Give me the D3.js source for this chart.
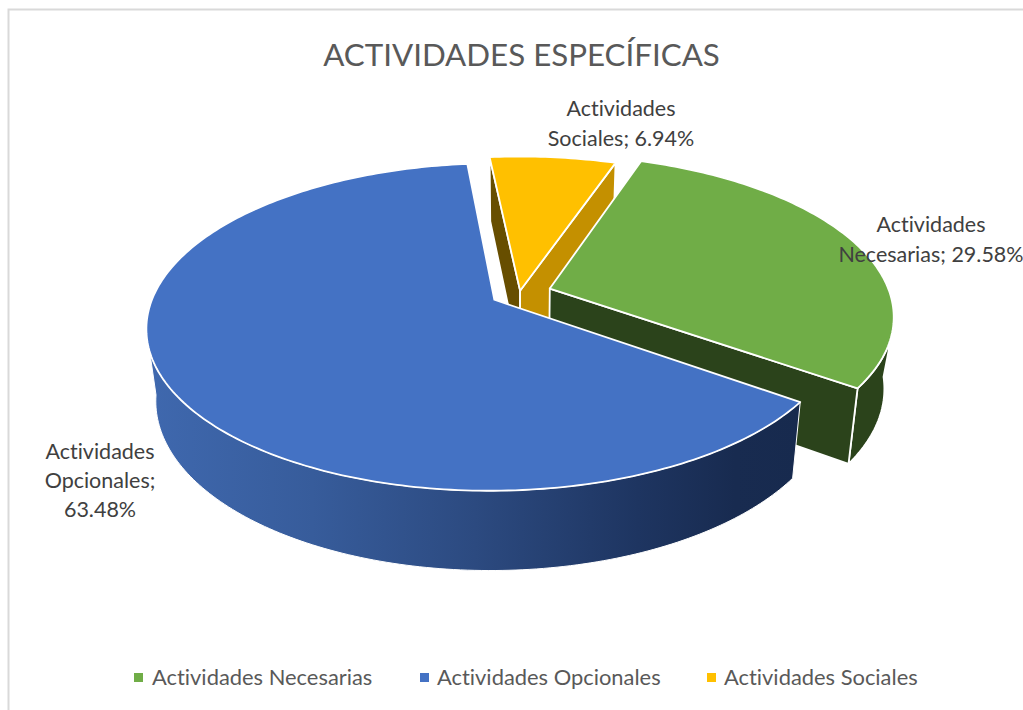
<!DOCTYPE html>
<html><head><meta charset="utf-8">
<script src="https://cdn.jsdelivr.net/npm/d3@7"></script>
<style>html,body{margin:0;padding:0;background:#fff;overflow:hidden}text{font-family:Lato,"Open Sans",sans-serif;font-variant-ligatures:none}</style>
</head><body><svg id="c" width="1023" height="710"></svg>
<script>
const titleText = "ACTIVIDADES ESPECÍFICAS";
const categories = ["Actividades Necesarias","Actividades Opcionales","Actividades Sociales"];
const values = [29.58,63.48,6.94];
const explosions = [0.094,0.085,0.015];
const colors = ["#70ad47","#4472c4","#ffc000"];
const labelLines = [["Actividades","Necesarias; 29.58%"],["Actividades","Opcionales;","63.48%"],["Actividades","Sociales; 6.94%"]];

const svg = d3.select("#c");
const rad = Math.PI/180;
const P = {cx:519.5,cy:293,R:340,A:157,p:0.165,B:73,q:0.025,start:19};
function project(X,Y,Z){const w=1-P.p*Y+P.q*Z;return [P.cx+P.R*X/w,P.cy+(P.A*Y+P.B*Z)/w];}

const defs = svg.append("defs");
const g = defs.append("linearGradient").attr("id","blueWall").attr("gradientUnits","userSpaceOnUse")
  .attr("x1",150).attr("x2",800).attr("y1",0).attr("y2",0);
[[0,"#3f68ae"],[0.25,"#375c9b"],[0.5,"#2c4a80"],[0.75,"#1e3561"],[0.9,"#182b50"],[1,"#172a4e"]]
  .forEach(s=>g.append("stop").attr("offset",s[0]).attr("stop-color",s[1]));

// frame
svg.append("path").attr("d","M8.5 712V9.5H1025").attr("fill","none").attr("stroke","#d9d9d9").attr("stroke-width",2);

const pie = d3.pie().sort(null).value(d=>d).startAngle(P.start*rad).endAngle((P.start+360)*rad);
const arcs = pie(values).map((a,i)=>{
  const mid=(a.startAngle+a.endAngle)/2;
  return {i,a0:a.startAngle,a1:a.endAngle,ox:explosions[i]*Math.sin(mid),oy:-explosions[i]*Math.cos(mid)};
});
const pt=(s,t,Z,r=1)=>project(s.ox+r*Math.sin(t),s.oy-r*Math.cos(t),Z);
const line=d3.line();
const sample=(a,b)=>{const n=Math.max(2,Math.ceil(Math.abs(b-a)/rad));return d3.range(n+1).map(k=>a+(b-a)*k/n);};
const arcPts=(s,a,b,Z)=>sample(a,b).map(t=>pt(s,t,Z));
const radial=(s,t)=>[pt(s,t,0,0),pt(s,t,0),pt(s,t,1),pt(s,t,1,0)];
// outer wall: anchored at angle a, its silhouette end differs on the top (bt) and bottom (bb) rims
const outer=(s,a,bt,bb)=>arcPts(s,a,bt,0).concat(arcPts(s,bb,a,1));
const topFace=s=>[pt(s,0,0,0)].concat(arcPts(s,s.a0,s.a1,0));
const face=(d,fill,w=1.8)=>svg.append("path").attr("d",line(d)+"Z").attr("fill",fill)
  .attr("stroke","#fff").attr("stroke-width",w).attr("stroke-linejoin","round");

const [green,blue,yellow]=arcs;
// yellow (furthest back)
face(radial(yellow,yellow.a0),"#674e00");
face(radial(yellow,yellow.a1),"#c49000");
face(topFace(yellow),colors[2]);
// green
face(outer(green,green.a1,105*rad,96*rad),"#2b431b");
face(radial(green,green.a1),"#2b431b");
face(topFace(green),colors[0]);
// blue
face(outer(blue,blue.a0,252*rad,262*rad),"url(#blueWall)",1);
face(topFace(blue),colors[1]);

// title
svg.append("text").attr("x",521.5).attr("y",66).attr("text-anchor","middle")
  .attr("font-size",31.3).attr("fill","#595959").text(titleText);

// data labels
const labelPos=[[931,232,30],[100,459,29],[621,116,30]];
labelLines.forEach((lines,i)=>{
  lines.forEach((l,k)=>svg.append("text").attr("x",labelPos[i][0]).attr("y",labelPos[i][1]+k*labelPos[i][2])
    .attr("text-anchor","middle").attr("font-size",21.5).attr("fill","#404040").text(l));
});

// legend
const legendX=[[134,152],[420,437],[707,724]];
categories.forEach((c,i)=>{
  svg.append("rect").attr("x",legendX[i][0]).attr("y",673).attr("width",9).attr("height",9).attr("fill",colors[i]);
  svg.append("text").attr("x",legendX[i][1]).attr("y",685).attr("font-size",21.9).attr("fill","#595959").text(c);
});
</script></body></html>
